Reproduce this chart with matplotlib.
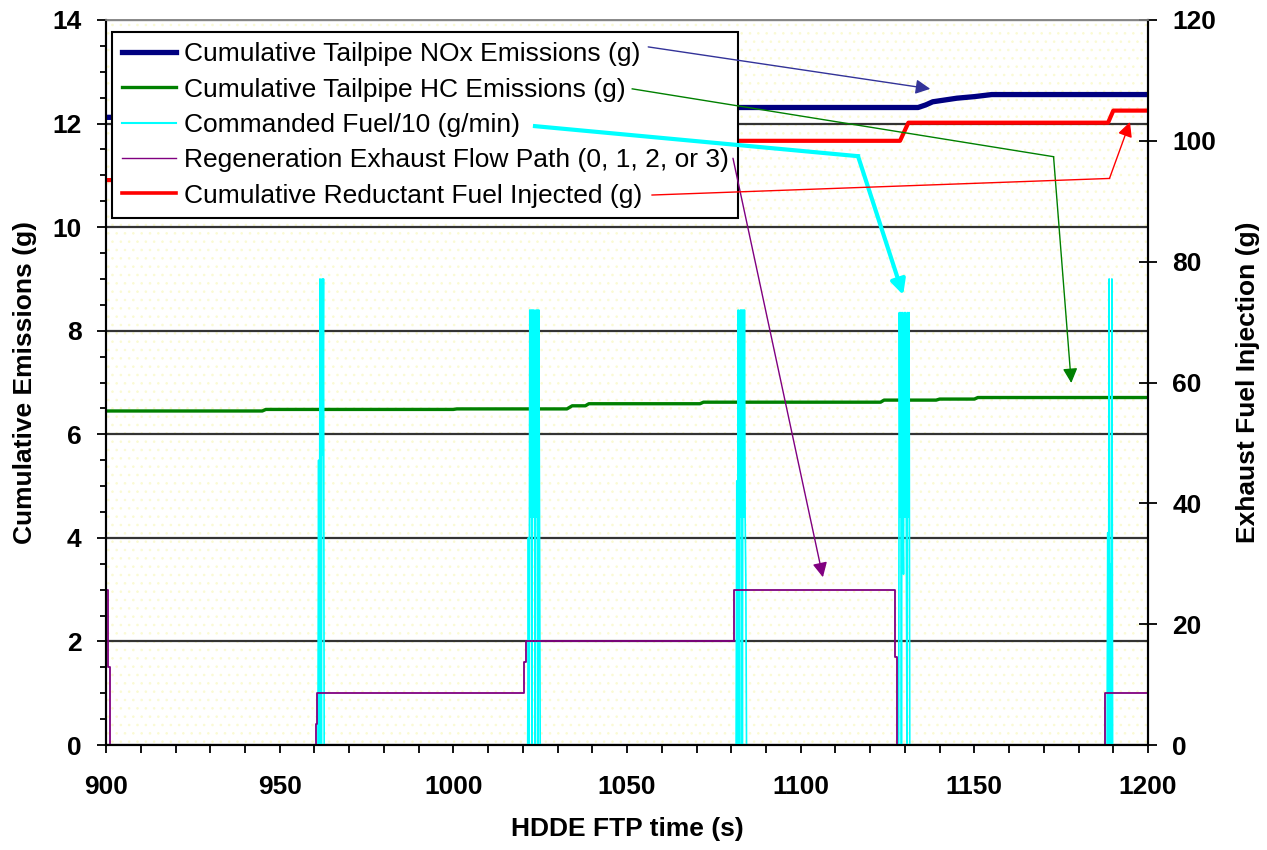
import numpy as np
import matplotlib
matplotlib.use('Agg')
import matplotlib.pyplot as plt
from matplotlib.lines import Line2D
from matplotlib.patches import Rectangle
from matplotlib.ticker import MultipleLocator

plt.rcParams['font.family'] = ['Liberation Sans', 'DejaVu Sans']
plt.rcParams['font.weight'] = 'bold'
plt.rcParams['axes.labelweight'] = 'bold'
plt.rcParams['hatch.linewidth'] = 0.6

# Cumulative tailpipe NOx (g), left axis
nox_t = [900, 930, 935, 990, 995, 1040, 1045, 1133.8, 1136, 1138, 1141, 1145, 1150, 1155, 1200]
nox_v = [12.12, 12.12, 12.18, 12.18, 12.25, 12.25, 12.31, 12.31, 12.36, 12.42, 12.45, 12.49, 12.52, 12.56, 12.56]

# Cumulative tailpipe HC (g), left axis
hc_t = [900, 945, 946, 1000, 1001, 1032.7, 1034.2, 1038, 1039, 1071, 1072, 1123, 1124, 1139, 1140, 1150, 1151, 1200]
hc_v = [6.45, 6.45, 6.48, 6.48, 6.49, 6.49, 6.55, 6.55, 6.59, 6.59, 6.62, 6.62, 6.66, 6.66, 6.68, 6.68, 6.71, 6.71]

# Commanded fuel / 10 (g/min), bursts sampled every 0.2 s
fuel_dt = 0.2
fuel_bursts = [
    (961.0, [0, 5.5, 0, 9.0, 5.6, 0, 9.0, 5.6, 9.0, 0, 0]),
    (1021.4, [0, 4.0, 0, 8.4, 4.4, 8.4, 0, 8.4, 4.4, 8.4, 4.4, 0, 8.4, 4.4, 8.4, 0, 8.4, 4.4, 0]),
    (1081.4, [0, 5.1, 0, 8.4, 4.4, 0, 8.4, 4.4, 8.4, 0, 8.4, 4.4, 8.4, 4.4, 3.2, 0]),
    (1128.2, [0, 8.35, 4.4, 8.35, 0, 8.35, 4.4, 3.3, 8.35, 4.4, 8.35, 4.4, 0, 8.35, 4.4, 8.35, 0]),
    (1188.2, [0, 4.1, 0, 9.0, 0, 3.5, 0, 9.0, 0]),
]

# Regeneration exhaust flow path (0-3), left axis
regen_t = [900, 900.5, 900.5, 901.0, 901.0, 960.4, 960.4, 960.8, 960.8, 1020.4, 1020.4, 1020.9, 1020.9,
           1080.8, 1080.8, 1127.2, 1127.2, 1127.6, 1127.6, 1187.6, 1187.6, 1200]
regen_v = [3, 3, 1.5, 1.5, 0, 0, 0.4, 0.4, 1, 1, 1.6, 1.6, 2, 2, 3, 3, 1.7, 1.7, 0, 0, 1, 1]

# Cumulative reductant fuel injected (g), right axis
red_t = [900, 960, 961, 1020, 1021, 1080, 1081, 1128.6, 1131, 1188.5, 1190, 1200]
red_v = [93.5, 93.5, 95.5, 95.5, 97.8, 97.8, 100.0, 100.0, 103.0, 103.0, 105.0, 105.0]

labels = ['Cumulative Tailpipe NOx Emissions (g)',
          'Cumulative Tailpipe HC Emissions (g)',
          'Commanded Fuel/10 (g/min)',
          'Regeneration Exhaust Flow Path (0, 1, 2, or 3)',
          'Cumulative Reductant Fuel Injected (g)']

# callout arrows (time, left-axis value), legend -> curve
arrow_paths = [
    ('#333399', 1.0, [(1056.1, 13.48), (1137.3, 12.67)]),
    ('#008000', 1.0, [(1051.5, 12.67), (1172.8, 11.36), (1177.9, 6.99)]),
    ('#00ffff', 3.0, [(1023.5, 11.95), (1116.5, 11.37), (1129.5, 8.69)]),
    ('#800080', 1.0, [(1080.5, 11.33), (1106.4, 3.24)]),
    ('#ff0000', 1.0, [(1057.2, 10.62), (1188.9, 10.94), (1194.8, 12.03)]),
]

fig = plt.figure(figsize=(12.67, 8.5), dpi=100)
ax = fig.add_axes([0.0837, 0.1235, 0.8224, 0.853])
ax2 = ax.twinx()

# faint dotted background pattern
ax.add_patch(Rectangle((0, 0), 1, 1, transform=ax.transAxes, facecolor='none',
                       edgecolor='#fafad2', hatch='..', lw=0, zorder=0))

ft, fv = [], []
for t0, vals in fuel_bursts:
    ft += [t0 + i * fuel_dt for i in range(len(vals))] + [np.nan]
    fv += vals + [np.nan]

ax.plot(hc_t, hc_v, color='#008000', lw=2.4, zorder=2)
ax.plot(ft, fv, color='#00ffff', lw=1.2, zorder=3)
ax.plot(regen_t, regen_v, color='#800080', lw=1.3, zorder=4)
ax.plot(nox_t, nox_v, color='#000080', lw=3.8, zorder=4)
ax2.plot(red_t, red_v, color='#ff0000', lw=3.0, zorder=2)

ax.set_xlim(900, 1200)
ax.set_ylim(0, 14)
ax2.set_ylim(0, 120)
ax.xaxis.set_major_locator(MultipleLocator(50))
ax.xaxis.set_minor_locator(MultipleLocator(10))
ax.yaxis.set_major_locator(MultipleLocator(2))
ax.yaxis.set_minor_locator(MultipleLocator(0.5))
ax2.yaxis.set_major_locator(MultipleLocator(20))
ax.yaxis.grid(True, which='major', color='#333333', lw=1.6)
ax.set_axisbelow(True)

ax.tick_params(axis='both', which='both', direction='out', labelsize=19, width=1.3)
ax.tick_params(axis='y', which='major', length=6.5, pad=11)
ax.tick_params(axis='y', which='minor', length=4.5)
ax.tick_params(axis='x', which='both', length=5.5, pad=16)
ax2.tick_params(axis='y', direction='inout', length=13, width=1.3, labelsize=19, pad=11)

for a in (ax, ax2):
    for s in ('left', 'bottom', 'right'):
        a.spines[s].set_linewidth(1.5)
        a.spines[s].set_color('black')
    a.spines['top'].set_color('#888888')
    a.spines['top'].set_linewidth(1.2)

ax.set_xlabel('HDDE FTP time (s)', fontsize=19, labelpad=13)
ax.set_ylabel('Cumulative Emissions (g)', fontsize=19, labelpad=11)
ax2.set_ylabel('Exhaust Fuel Injection (g)', fontsize=19, rotation=90, labelpad=14)

handles = [Line2D([], [], color='#000080', lw=3.8),
           Line2D([], [], color='#008000', lw=2.4),
           Line2D([], [], color='#00ffff', lw=1.5),
           Line2D([], [], color='#800080', lw=1.0),
           Line2D([], [], color='#ff0000', lw=2.6)]
leg = ax2.legend(handles, labels, loc='upper left', bbox_to_anchor=(0.006, 0.983),
                 prop={'size': 19, 'weight': 'normal'}, frameon=True, fancybox=False,
                 framealpha=1, edgecolor='black', borderaxespad=0, handlelength=2.05,
                 labelspacing=0.43, borderpad=0.38, handletextpad=0.27)
leg.get_frame().set_linewidth(1.5)
leg.set_zorder(5)

for color, lw, path in arrow_paths:
    xs = [p[0] for p in path]
    ys = [p[1] for p in path]
    if len(path) > 2:
        ax2.plot(xs[:-1], ys[:-1], color=color, lw=lw, transform=ax.transData, zorder=6, clip_on=False)
    ax2.annotate('', xy=path[-1], xytext=path[-2], xycoords=ax.transData, textcoords=ax.transData,
                 arrowprops=dict(arrowstyle='-|>', color=color, lw=lw, mutation_scale=22,
                                 shrinkA=0, shrinkB=0), zorder=6)

fig.savefig('out.png', dpi=100)
